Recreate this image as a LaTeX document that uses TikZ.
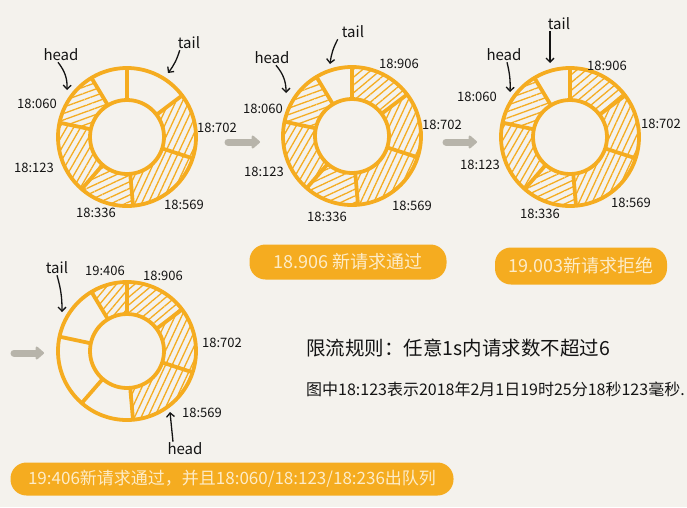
\documentclass[tikz,border=0pt]{standalone}
\usepackage{fontspec}
\setmainfont{Noto Sans CJK SC}
\usetikzlibrary{arrows.meta, patterns.meta}
\definecolor{BG}{RGB}{244,242,237}
\definecolor{OR}{RGB}{245,172,32}
\definecolor{CR}{RGB}{253,236,200}
\definecolor{GA}{RGB}{183,180,170}
\definecolor{INK}{RGB}{20,20,20}

\begin{document}
\begin{tikzpicture}[x=1pt, y=-1pt,
  ring/.style={draw=OR, line width=3.8pt},
  hatch/.style={pattern={Lines[angle=#1, distance=6pt, line width=1.3pt]}, pattern color=OR},
  ts/.style={font=\fontsize{13}{13}\selectfont, text=INK, inner sep=0},
  ptr/.style={font=\fontsize{15}{15}\selectfont, text=INK, inner sep=1pt},
  ptrarr/.style={draw=INK, line width=1.3pt, -{Straight Barb[length=4pt,width=8pt]}},
  pill/.style={fill=OR, rounded corners=16pt, text=CR, inner sep=0},
  note/.style={text=INK, anchor=west, inner sep=0},
  move/.style={draw=GA, line width=7pt, line cap=round, -{Triangle[round,length=9pt,width=15pt]}}
]
\fill[BG] (0,0) rectangle (687,507);
\useasboundingbox (0,0) rectangle (687,507);

% Ring 1: five requests in the window
\begin{scope}[shift={(127,137)}]
  \foreach \a/\b/\h in {-18/37/65, 121/168/20, 168/229/60, 229/275/25, 275/342/65}
    \fill[hatch=\h] (\a:69pt) arc[start angle=\a, end angle=\b, radius=69pt]
      -- (\b:37pt) arc[start angle=\b, end angle=\a, radius=37pt] -- cycle;
  \draw[ring] (0,0) circle[radius=69pt] (0,0) circle[radius=37pt];
  \foreach \a in {37,90,121,168,229,275,342}
    \draw[ring] (\a:37pt) -- (\a:69pt);
\end{scope}

% Ring 2: 18:906 admitted
\begin{scope}[shift={(352,136)}]
  \foreach \a/\b/\h in {-18/37/65, 37/90/40, 121/168/20, 168/229/60, 229/275/25, 275/342/65}
    \fill[hatch=\h] (\a:69pt) arc[start angle=\a, end angle=\b, radius=69pt]
      -- (\b:37pt) arc[start angle=\b, end angle=\a, radius=37pt] -- cycle;
  \draw[ring] (0,0) circle[radius=69pt] (0,0) circle[radius=37pt];
  \foreach \a in {37,90,121,168,229,275,342}
    \draw[ring] (\a:37pt) -- (\a:69pt);
\end{scope}

% Ring 3: 19.003 rejected
\begin{scope}[shift={(570,137)}]
  \foreach \a/\b/\h in {-18/37/65, 37/90/40, 121/168/20, 168/229/60, 229/275/25, 275/342/65}
    \fill[hatch=\h] (\a:69pt) arc[start angle=\a, end angle=\b, radius=69pt]
      -- (\b:37pt) arc[start angle=\b, end angle=\a, radius=37pt] -- cycle;
  \draw[ring] (0,0) circle[radius=69pt] (0,0) circle[radius=37pt];
  \foreach \a in {37,90,121,168,229,275,342}
    \draw[ring] (\a:37pt) -- (\a:69pt);
\end{scope}

% Ring 4: 19:406 admitted, three dequeued
\begin{scope}[shift={(127,351)}]
  \foreach \a/\b/\h in {-18/37/65, 37/90/40, 90/121/50, 275/342/65}
    \fill[hatch=\h] (\a:69pt) arc[start angle=\a, end angle=\b, radius=69pt]
      -- (\b:37pt) arc[start angle=\b, end angle=\a, radius=37pt] -- cycle;
  \draw[ring] (0,0) circle[radius=69pt] (0,0) circle[radius=37pt];
  \foreach \a in {37,90,121,168,229,275,342}
    \draw[ring] (\a:37pt) -- (\a:69pt);
\end{scope}

% Timestamps
\node[ts] (a1) at (37,104)  {18:060};
\node[ts] (a2) at (34,168)  {18:123};
\node[ts] (a3) at (96,213)  {18:336};
\node[ts] (a4) at (184,205) {18:569};
\node[ts] (a5) at (217,128) {18:702};

\node[ts] (b1) at (263,109) {18:060};
\node[ts] (b2) at (264,172) {18:123};
\node[ts] (b3) at (327,217) {18:336};
\node[ts] (b4) at (412,206) {18:569};
\node[ts] (b5) at (442,125) {18:702};
\node[ts] (b6) at (399,64)  {18:906};

\node[ts] (c1) at (477,97)  {18:060};
\node[ts] (c2) at (480,165) {18:123};
\node[ts] (c3) at (540,214) {18:336};
\node[ts] (c4) at (631,203) {18:569};
\node[ts] (c5) at (661,124) {18:702};
\node[ts] (c6) at (607,66)  {18:906};

\node[ts] (d1) at (105,271) {19:406};
\node[ts] (d2) at (163,276) {18:906};
\node[ts] (d3) at (222,343) {18:702};
\node[ts] (d4) at (202,413) {18:569};

% Head and tail pointers
\node[ptr] (h1) at (61,55)   {head};
\node[ptr] (t1) at (189,43)  {tail};
\node[ptr] (h2) at (272,58)  {head};
\node[ptr] (t2) at (353,32)  {tail};
\node[ptr] (h3) at (504,55)  {head};
\node[ptr] (t3) at (559,24)  {tail};
\node[ptr] (t4) at (57,268)  {tail};
\node[ptr] (h4) at (185,449) {head};

\coordinate (h1p) at (67,90);
\coordinate (t1p) at (168,73);
\coordinate (h2p) at (286,93);
\coordinate (t2p) at (330,64);
\coordinate (h3p) at (510,92);
\coordinate (t3p) at (550,63);
\coordinate (t4p) at (62,312);
\coordinate (h4p) at (170,412);

\draw[ptrarr] ([xshift=-3pt]h1.south) to[bend left=20] (h1p);
\draw[ptrarr] ([xshift=3pt]t1.south west) to[bend left=10] (t1p);
\draw[ptrarr] ([xshift=4pt]h2.south) to[bend left=20] (h2p);
\draw[ptrarr] ([xshift=-3pt]t2.south west) to[bend right=10] (t2p);
\draw[ptrarr] ([xshift=3pt]h3.south) to[bend left=8] (h3p);
\draw[ptrarr] ([xshift=-9pt]t3.south) -- (t3p);
\draw[ptrarr] (t4.south) to[bend left=8] (t4p);
\draw[ptrarr] ([xshift=-12pt]h4.north) -- (h4p);

% Moves between states
\coordinate (m1a) at (228,142); \coordinate (m1b) at (260,142);
\coordinate (m2a) at (446,142); \coordinate (m2b) at (477,142);
\coordinate (m3a) at (14,353);  \coordinate (m3b) at (44,353);
\draw[move] (m1a) -- (m1b);
\draw[move] (m2a) -- (m2b);
\draw[move] (m3a) -- (m3b);

% Result pills
\node[pill, minimum width=197pt, minimum height=35pt, font=\fontsize{18}{18}\selectfont]
  (p1) at (348,262) {18.906 新请求通过};
\node[pill, minimum width=172pt, minimum height=37pt, font=\fontsize{18}{18}\selectfont]
  (p2) at (581,266) {19.003新请求拒绝};
\node[pill, minimum width=443pt, minimum height=33pt, font=\fontsize{17}{17}\selectfont]
  (p3) at (232,479) {19:406新请求通过，并且18:060/18:123/18:236出队列};

% Notes
\node[note, font=\fontsize{19.5}{20}\selectfont] (rule) at (306,348) {限流规则：任意1s内请求数不超过6};
\node[note, font=\fontsize{16}{16}\selectfont] (expl) at (306,389) {图中18:123表示2018年2月1日19时25分18秒123毫秒.};
\end{tikzpicture}
\end{document}
